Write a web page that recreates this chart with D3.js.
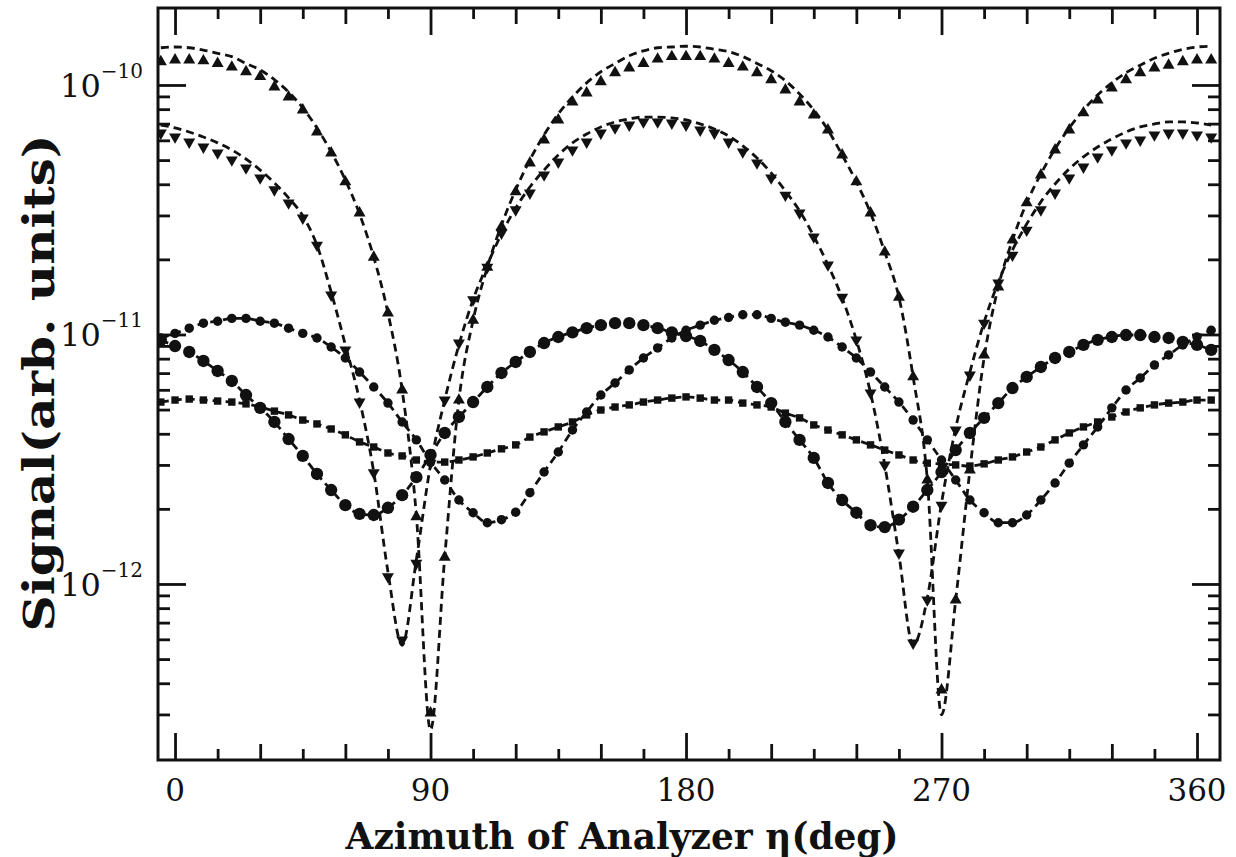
<!DOCTYPE html>
<html><head><meta charset="utf-8">
<script src="https://cdn.jsdelivr.net/npm/d3@7"></script>
<style>body{margin:0;background:#fff;} svg{display:block;}</style>
</head><body><svg id="c" width="1236" height="857"></svg>
<script>
// Analyzer azimuth (deg)
const angles = [-5,0,5,10,15,20,25,30,35,40,45,50,55,60,65,70,75,80,85,90,95,100,105,110,115,120,125,130,135,140,145,150,155,160,165,170,175,180,185,190,195,200,205,210,215,220,225,230,235,240,245,250,255,260,265,270,275,280,285,290,295,300,305,310,315,320,325,330,335,340,345,350,355,360,365];

// measured signals (arb. units)
const upTriangle = [1.24e-10,1.26e-10,1.26e-10,1.25e-10,1.22e-10,1.18e-10,1.13e-10,1.08e-10,9.82e-11,8.95e-11,7.94e-11,6.48e-11,5.34e-11,4.09e-11,3.07e-11,2.04e-11,1.22e-11,5.99e-12,1.86e-12,3.04e-13,1.28e-12,5.46e-12,1.14e-11,1.86e-11,2.70e-11,3.73e-11,4.87e-11,6.02e-11,7.24e-11,8.55e-11,9.29e-11,1.03e-10,1.12e-10,1.17e-10,1.22e-10,1.27e-10,1.30e-10,1.30e-10,1.30e-10,1.27e-10,1.22e-10,1.18e-10,1.12e-10,1.05e-10,9.55e-11,8.55e-11,7.58e-11,6.60e-11,5.24e-11,4.09e-11,3.07e-11,2.14e-11,1.41e-11,6.76e-12,2.61e-12,3.76e-13,8.63e-13,2.86e-12,8.28e-12,1.55e-11,2.39e-11,3.37e-11,4.36e-11,5.49e-11,6.60e-11,7.73e-11,8.71e-11,9.73e-11,1.05e-10,1.12e-10,1.17e-10,1.20e-10,1.24e-10,1.26e-10,1.26e-10];
const downTriangle = [6.42e-11,6.19e-11,5.91e-11,5.64e-11,5.34e-11,5.01e-11,4.65e-11,4.24e-11,3.80e-11,3.37e-11,2.93e-11,2.28e-11,1.44e-11,8.67e-12,5.36e-12,2.79e-12,1.07e-12,5.96e-13,1.21e-12,3.05e-12,5.46e-12,9.24e-12,1.38e-11,1.86e-11,2.55e-11,3.16e-11,3.69e-11,4.36e-11,4.91e-11,5.49e-11,5.91e-11,6.42e-11,6.73e-11,6.91e-11,7.11e-11,7.11e-11,7.04e-11,6.91e-11,6.60e-11,6.42e-11,5.91e-11,5.39e-11,4.87e-11,4.24e-11,3.62e-11,3.07e-11,2.46e-11,1.90e-11,1.41e-11,9.51e-12,5.83e-12,3.00e-12,1.33e-12,5.80e-13,8.63e-13,2.07e-12,4.14e-12,6.88e-12,1.11e-11,1.61e-11,2.08e-11,2.62e-11,3.16e-11,3.69e-11,4.24e-11,4.69e-11,5.15e-11,5.49e-11,5.86e-11,6.02e-11,6.31e-11,6.42e-11,6.42e-11,6.31e-11,6.19e-11];
const bigCircle = [9.51e-12,8.99e-12,8.51e-12,7.83e-12,7.14e-12,6.51e-12,5.72e-12,5.08e-12,4.46e-12,3.81e-12,3.26e-12,2.76e-12,2.38e-12,2.07e-12,1.91e-12,1.89e-12,2.02e-12,2.27e-12,2.68e-12,3.29e-12,4.03e-12,4.67e-12,5.36e-12,6.16e-12,7.01e-12,7.76e-12,8.51e-12,9.24e-12,9.77e-12,1.02e-11,1.06e-11,1.09e-11,1.11e-11,1.11e-11,1.09e-11,1.06e-11,1.02e-11,9.86e-12,9.42e-12,8.67e-12,7.90e-12,7.07e-12,6.16e-12,5.31e-12,4.46e-12,3.78e-12,3.20e-12,2.54e-12,2.17e-12,1.93e-12,1.72e-12,1.69e-12,1.81e-12,2.04e-12,2.38e-12,2.81e-12,3.44e-12,4.03e-12,4.63e-12,5.31e-12,6.10e-12,6.76e-12,7.41e-12,8.05e-12,8.51e-12,9.08e-12,9.51e-12,9.77e-12,9.95e-12,9.95e-12,9.77e-12,9.68e-12,9.33e-12,9.08e-12,8.67e-12];
const smallCircle = [9.68e-12,1.01e-11,1.06e-11,1.11e-11,1.13e-11,1.16e-11,1.16e-11,1.13e-11,1.11e-11,1.06e-11,1.01e-11,9.68e-12,8.91e-12,8.05e-12,7.07e-12,6.16e-12,5.31e-12,4.46e-12,3.78e-12,3.08e-12,2.61e-12,2.17e-12,1.93e-12,1.76e-12,1.81e-12,1.94e-12,2.32e-12,2.81e-12,3.38e-12,4.14e-12,4.89e-12,5.72e-12,6.39e-12,7.21e-12,8.05e-12,8.83e-12,9.68e-12,1.04e-11,1.09e-11,1.14e-11,1.17e-11,1.20e-11,1.20e-11,1.16e-11,1.12e-11,1.09e-11,1.04e-11,9.77e-12,8.91e-12,8.05e-12,7.07e-12,6.16e-12,5.36e-12,4.54e-12,3.78e-12,3.14e-12,2.61e-12,2.17e-12,1.93e-12,1.76e-12,1.76e-12,1.89e-12,2.17e-12,2.54e-12,3.05e-12,3.61e-12,4.26e-12,5.08e-12,5.99e-12,6.69e-12,7.54e-12,8.28e-12,9.08e-12,9.77e-12,1.04e-11];
const square = [5.36e-12,5.46e-12,5.51e-12,5.46e-12,5.41e-12,5.36e-12,5.27e-12,5.12e-12,4.93e-12,4.76e-12,4.54e-12,4.38e-12,4.18e-12,3.96e-12,3.71e-12,3.54e-12,3.35e-12,3.26e-12,3.14e-12,3.08e-12,3.08e-12,3.14e-12,3.23e-12,3.35e-12,3.48e-12,3.61e-12,3.88e-12,4.07e-12,4.26e-12,4.46e-12,4.76e-12,4.98e-12,5.12e-12,5.22e-12,5.36e-12,5.46e-12,5.56e-12,5.62e-12,5.56e-12,5.46e-12,5.46e-12,5.31e-12,5.22e-12,5.12e-12,4.84e-12,4.63e-12,4.34e-12,4.14e-12,3.96e-12,3.78e-12,3.61e-12,3.44e-12,3.29e-12,3.14e-12,3.05e-12,3.03e-12,3.00e-12,2.97e-12,3.03e-12,3.14e-12,3.23e-12,3.38e-12,3.54e-12,3.78e-12,4.03e-12,4.26e-12,4.46e-12,4.67e-12,4.89e-12,5.08e-12,5.22e-12,5.31e-12,5.36e-12,5.46e-12,5.46e-12];

// fitted curves (dashed) for the two triangle series
const upTriangleFit = [1.41e-10,1.42e-10,1.41e-10,1.38e-10,1.34e-10,1.30e-10,1.22e-10,1.15e-10,1.05e-10,9.37e-11,8.09e-11,6.73e-11,5.39e-11,4.16e-11,3.04e-11,2.04e-11,1.22e-11,5.99e-12,1.89e-12,2.60e-13,1.28e-12,5.46e-12,1.14e-11,1.86e-11,2.75e-11,3.80e-11,5.01e-11,6.31e-11,7.66e-11,8.95e-11,1.02e-10,1.13e-10,1.22e-10,1.31e-10,1.37e-10,1.41e-10,1.42e-10,1.43e-10,1.42e-10,1.39e-10,1.36e-10,1.30e-10,1.22e-10,1.14e-10,1.04e-10,9.20e-11,7.94e-11,6.60e-11,5.24e-11,4.09e-11,3.07e-11,2.14e-11,1.41e-11,6.76e-12,2.61e-12,2.99e-13,8.63e-13,2.86e-12,8.05e-12,1.55e-11,2.39e-11,3.37e-11,4.40e-11,5.54e-11,6.73e-11,7.94e-11,9.12e-11,1.02e-10,1.12e-10,1.20e-10,1.28e-10,1.34e-10,1.39e-10,1.42e-10,1.43e-10];
const downTriangleFit = [6.91e-11,6.73e-11,6.48e-11,6.19e-11,5.86e-11,5.49e-11,5.05e-11,4.56e-11,4.05e-11,3.53e-11,2.99e-11,2.28e-11,1.48e-11,9.08e-12,5.46e-12,2.81e-12,1.12e-12,5.69e-13,1.25e-12,3.00e-12,5.46e-12,9.08e-12,1.38e-11,1.90e-11,2.53e-11,3.21e-11,3.90e-11,4.56e-11,5.24e-11,5.86e-11,6.36e-11,6.79e-11,7.11e-11,7.31e-11,7.44e-11,7.44e-11,7.38e-11,7.24e-11,6.98e-11,6.66e-11,6.25e-11,5.70e-11,5.10e-11,4.44e-11,3.76e-11,3.13e-11,2.48e-11,1.90e-11,1.40e-11,9.51e-12,5.83e-12,3.00e-12,1.31e-12,5.69e-13,8.79e-13,2.11e-12,4.22e-12,7.07e-12,1.12e-11,1.62e-11,2.18e-11,2.77e-11,3.40e-11,4.01e-11,4.61e-11,5.15e-11,5.64e-11,6.08e-11,6.48e-11,6.79e-11,6.98e-11,7.11e-11,7.11e-11,7.04e-11,6.91e-11];

const xTickLabels = [0, 90, 180, 270, 360];
const xMediumTicks = [30,60,120,150,210,240,300,330];
const xMinorTicks = [15,45,75,105,135,165,195,225,255,285,315,345];
const yDecades = [1e-12, 1e-11, 1e-10];
const yDecadeLabels = ["\u221212", "\u221211", "\u221210"];
const yMinorTicks = [3e-13,4e-13,5e-13,6e-13,7e-13,8e-13,9e-13,2e-12,3e-12,4e-12,5e-12,6e-12,7e-12,8e-12,9e-12,2e-11,3e-11,4e-11,5e-11,6e-11,7e-11,8e-11,9e-11];

const L = 158, T = 8, R = 1220, B = 760;
const svg = d3.select("#c");
const x = d3.scaleLinear().domain([-6, 368.1]).range([L, R]);
const y = d3.scaleLog().domain([1.97e-13, 2.035e-10]).range([B, T]);
const serif = "'DejaVu Serif', 'Liberation Serif', serif";

svg.append("defs").append("clipPath").attr("id", "clip")
  .append("rect").attr("x", L).attr("y", T).attr("width", R - L).attr("height", B - T);

function tickAxis(axisFn, scale, vals, size, tr) {
  const g = svg.append("g").attr("transform", tr)
    .call(axisFn(scale).tickValues(vals).tickSize(size).tickFormat(""));
  g.select(".domain").remove();
  g.selectAll(".tick line").attr("stroke", "#111").attr("stroke-width", 2.8);
}
// bottom / top
tickAxis(d3.axisBottom, x, xTickLabels, -27, `translate(0,${B})`);
tickAxis(d3.axisBottom, x, xMediumTicks, -16, `translate(0,${B})`);
tickAxis(d3.axisBottom, x, xMinorTicks, -11, `translate(0,${B})`);
tickAxis(d3.axisTop, x, xTickLabels, -27, `translate(0,${T})`);
tickAxis(d3.axisTop, x, xMediumTicks, -16, `translate(0,${T})`);
tickAxis(d3.axisTop, x, xMinorTicks, -11, `translate(0,${T})`);
// left / right
tickAxis(d3.axisLeft, y, yDecades, -28, `translate(${L},0)`);
tickAxis(d3.axisLeft, y, yMinorTicks, -12, `translate(${L},0)`);
tickAxis(d3.axisRight, y, yDecades, -28, `translate(${R},0)`);
tickAxis(d3.axisRight, y, yMinorTicks, -12, `translate(${R},0)`);

// frame
svg.append("rect").attr("x", L).attr("y", T).attr("width", R - L).attr("height", B - T)
  .attr("fill", "none").attr("stroke", "#111").attr("stroke-width", 3);

// x tick labels
svg.append("g").selectAll("text").data(xTickLabels).join("text")
  .attr("x", d => x(d)).attr("y", 801).attr("text-anchor", "middle")
  .attr("font-family", serif).attr("font-size", 31).attr("fill", "#111")
  .text(d => d);

// y tick labels 10^n
const yl = svg.append("g").selectAll("text").data(yDecades).join("text")
  .attr("x", 143).attr("y", d => y(d) + 12).attr("text-anchor", "end")
  .attr("font-family", serif).attr("fill", "#111");
yl.append("tspan").attr("font-size", 32).text("10");
yl.append("tspan").attr("font-size", 20).attr("dy", -19).text((d, i) => yDecadeLabels[i]);

// axis titles
svg.append("text").attr("x", 622).attr("y", 849).attr("text-anchor", "middle")
  .attr("font-family", serif).attr("font-weight", "bold").attr("font-size", 37).attr("fill", "#111")
  .attr("textLength", 553).attr("lengthAdjust", "spacingAndGlyphs")
  .text("Azimuth of Analyzer \u03b7(deg)");
svg.append("text").attr("transform", "translate(54,383) rotate(-90)").attr("text-anchor", "middle")
  .attr("font-family", serif).attr("font-weight", "bold").attr("font-size", 42).attr("fill", "#111")
  .attr("textLength", 497).attr("lengthAdjust", "spacingAndGlyphs")
  .text("Signal(arb.  units)");

// data
const plot = svg.append("g").attr("clip-path", "url(#clip)");
const line = d3.line().x((d, i) => x(angles[i])).y(d => y(d)).curve(d3.curveMonotoneX);
const dashed = (arr) => plot.append("path").datum(arr).attr("d", line)
  .attr("fill", "none").attr("stroke", "#111").attr("stroke-width", 2.8).attr("stroke-dasharray", "8,5");

dashed(upTriangleFit);
dashed(downTriangleFit);
dashed(bigCircle);
dashed(smallCircle);
dashed(square);

function markers(arr, type, size, rot) {
  plot.append("g").selectAll("path").data(arr).join("path")
    .attr("d", d3.symbol().type(type).size(size))
    .attr("transform", (d, i) => `translate(${x(angles[i])},${y(d)}) rotate(${rot})`)
    .attr("fill", "#111");
}
markers(square, d3.symbolSquare, 55, 0);
markers(bigCircle, d3.symbolCircle, 120, 0);
markers(smallCircle, d3.symbolCircle, 70, 0);
markers(upTriangle, d3.symbolTriangle, 62, 0);
markers(downTriangle, d3.symbolTriangle, 62, 180);
</script></body></html>
